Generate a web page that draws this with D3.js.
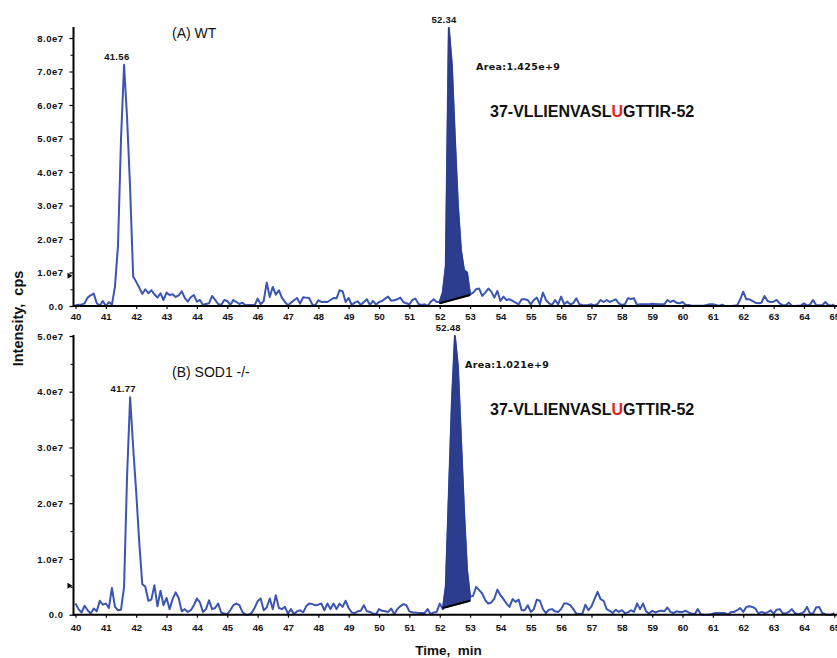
<!DOCTYPE html>
<html><head><meta charset="utf-8">
<script src="https://cdn.jsdelivr.net/npm/d3@7"></script>
<style>body{margin:0;background:#fff}svg{display:block}</style>
</head><body>
<svg id="chart" width="837" height="658"></svg>
<script>
// ---- data (intensity in units of 1e6 cps, sampled every 0.1 min from 40.0 to 65.0 min)
const timeStart = 40, timeStep = 0.1;
const wtIntensity = [
0.2,0.4,0.4,0.8,2.5,3.2,3.7,0.8,0.1,1.5,
0.0,1.2,0.4,5.8,18,50,72,56,35,8.8,
7.2,5.5,3.6,5.0,3.8,4.7,3.5,2.5,3.8,1.8,
4.0,3.3,3.5,2.7,3.2,4.4,2.4,1.3,2.6,3.3,
1.3,1.8,0.3,0.6,0.8,3.0,1.8,0.6,0.3,1.8,
1.5,0.3,1.8,1.2,0.6,1.0,0.2,0.3,0.3,0.2,
2.2,0.5,1.5,7.0,2.7,5.7,3.4,4.7,2.5,1.2,
0.2,1.0,1.7,2.4,0.7,2.6,2.5,2.4,0.5,0.2,
1.7,1.2,1.3,1.2,1.8,2.4,2.3,4.7,4.4,1.2,
2.4,0.3,1.0,1.4,0.3,1.2,2.0,0.3,1.5,0.4,
1.2,1.5,2.2,2.8,1.6,1.7,2.0,2.5,1.2,0.8,
0.5,1.8,2.2,0.6,0.3,0.5,0.0,1.2,2.0,1.2,
1.3,4.0,12,83,72,50,30,16.7,10.7,10.0,
3.5,4.0,5.0,5.2,3.0,4.0,5.2,4.3,2.5,4.5,
1.5,2.8,1.8,2.0,1.5,1.0,0.5,2.0,2.0,1.8,
0.5,1.8,2.5,0.5,4.0,1.8,0.8,0.3,1.8,0.5,
2.8,0.5,1.3,0.5,0.8,2.3,0.5,0.3,0.2,0.3,
0.5,0.2,0.6,1.8,1.2,1.8,1.2,1.6,2.0,0.8,
0.3,0.5,2.3,2.1,2.3,0.3,0.5,0.5,0.5,0.5,
0.7,0.6,0.5,0.5,0.5,1.8,1.2,1.6,1.0,0.8,
1.2,0.3,0.3,0.1,0.1,0.1,0.1,0.1,0.3,0.5,
0.5,0.3,0.0,0.4,0.0,0.0,0.0,0.1,0.2,2.0,
4.3,2.0,2.0,1.5,1.0,0.8,1.0,3.0,1.5,1.2,
1.3,1.8,0.8,0.2,0.2,1.0,0.1,0.0,0.1,0.1,
0.8,0.1,0.4,1.8,0.3,0.2,0.2,1.2,0.3,0.1,
0.5];
const sodIntensity = [
2.0,1.0,0.4,1.6,0.8,0.2,1.1,0.6,2.5,1.8,
2.0,1.2,4.8,1.4,0.8,0.9,5.0,25,39,30,
22,13,5.5,5.0,2.5,2.7,5.3,1.5,4.3,1.7,
3.0,1.0,2.8,4.0,3.0,0.6,1.0,0.5,0.8,1.7,
2.9,2.2,0.5,1.0,2.6,1.0,1.2,2.0,0.4,0.2,
0.1,0.8,1.7,2.0,1.7,0.5,0.0,0.0,0.3,1.2,
2.4,2.9,0.8,1.3,2.9,1.0,3.5,1.2,1.0,1.4,
0.2,1.0,0.1,0.6,0.8,0.4,1.5,2.0,1.9,1.7,
1.8,2.0,0.8,2.0,1.0,2.0,1.0,2.0,1.4,2.5,
1.2,0.4,0.3,0.6,0.7,1.7,0.6,0.5,0.2,0.1,
1.0,0.7,0.6,0.5,1.1,0.1,1.0,1.5,1.9,1.7,
0.6,0.4,0.4,0.3,0.3,0.3,1.0,0.1,0.4,0.5,
2.0,1.0,5.1,21.6,38,50,44.5,31.6,18.7,8.0,
3.2,3.4,5.0,4.4,3.8,2.6,2.0,2.2,2.9,4.5,
3.5,2.8,2.0,1.4,2.8,2.3,2.7,0.8,0.8,1.7,
0.5,1.0,2.7,2.5,1.0,0.3,0.9,1.0,0.6,0.5,
1.0,2.0,2.0,1.7,1.0,0.2,0.1,0.2,1.8,0.8,
1.5,2.8,4.1,2.8,2.5,1.0,0.7,0.3,0.9,0.5,
0.8,0.3,0.4,0.8,0.5,2.0,1.0,2.0,0.6,0.2,
0.7,0.4,0.6,0.7,0.6,1.3,0.5,0.3,0.6,0.5,
0.5,0.7,0.4,0.2,0.1,1.0,0.1,0.0,0.0,0.0,
0.2,0.3,0.3,0.3,0.3,0.0,0.5,0.5,0.8,1.2,
0.5,1.4,1.5,1.4,1.1,0.2,0.5,0.3,0.4,0.8,
0.2,0.9,1.0,0.3,0.2,0.5,1.0,0.3,0.1,0.2,
0.5,1.4,0.2,0.2,1.3,1.4,0.3,0.1,0.0,0.0,
0.3];
const unit = 1e6;
const xTickValues = [40,41,42,43,44,45,46,47,48,49,50,51,52,53,54,55,56,57,58,59,60,61,62,63,64,65];
const yTicksTop = [0,1e7,2e7,3e7,4e7,5e7,6e7,7e7,8e7];
const yTicksBottom = [0,1e7,2e7,3e7,4e7,5e7];
const panelTitles = ["(A) WT", "(B) SOD1 -/-"];
const peakTimes = [[41.56, 52.34], [41.77, 52.48]];
const areaLabels = ["Area:1.425e+9", "Area:1.021e+9"];
const fillWindows = [[52.0, 53.0], [52.1, 53.0]];
const fillBaselines = [[0.8, 3.3], [1.2, 2.5]];   // ×1e6 at window start / end
const markerValues = [9e6, 5.2e6];
const peptideParts = ["37-VLLIENVASL", "U", "GTTIR-52"];

// ---- drawing
const svg = d3.select("#chart");
const LINE = "#3b55b2", FILL = "#2c3d8e";
const FONT = "'Liberation Sans', Arial, Helvetica, sans-serif";
const x = d3.scaleLinear().domain([40, 65]).range([75.5, 834.3]);

const panels = [
  {values: wtIntensity, yMax: 8e7, y0: 306, yTopPx: 38, axisTop: 27, ticks: yTicksTop,
   titleY: 38, areaPos: [476, 70], pepY: 117, labPad: 4},
  {values: sodIntensity, yMax: 5e7, y0: 614.7, yTopPx: 336, axisTop: 335, ticks: yTicksBottom,
   titleY: 377, areaPos: [465, 368], pepY: 415, labPad: 7}
];

panels.forEach((p, pi) => {
  const g = svg.append("g");
  const y = d3.scaleLinear().domain([0, p.yMax]).range([p.y0, p.yTopPx]);
  const pts = p.values.map((v, i) => ({t: timeStart + i * timeStep, v: v * unit}));

  // trace
  g.append("path").datum(pts)
    .attr("fill", "none").attr("stroke", LINE).attr("stroke-width", 2)
    .attr("stroke-linejoin", "round")
    .attr("d", d3.line().x(d => x(d.t)).y(d => y(d.v)));

  // integrated peak area
  const [w0, w1] = fillWindows[pi];
  const [b0, b1] = fillBaselines[pi];
  const base = t => (b0 + (b1 - b0) * (t - w0) / (w1 - w0)) * unit;
  const inWin = pts.filter(d => d.t >= w0 - 1e-6 && d.t <= w1 + 1e-6);
  g.append("path").datum(inWin)
    .attr("fill", FILL).attr("stroke", FILL).attr("stroke-width", 1.5)
    .attr("stroke-linejoin", "round")
    .attr("d", d3.area().x(d => x(d.t)).y0(d => y(base(d.t))).y1(d => y(d.v)));
  g.append("path").datum([w0, w1])
    .attr("stroke", "#000").attr("stroke-width", 2).attr("fill", "none")
    .attr("d", d3.line().x(t => x(t)).y(t => y(base(t))));

  // x axis
  const xAxis = g.append("g").attr("transform", `translate(0,${p.y0})`)
    .call(d3.axisBottom(x).tickValues(xTickValues).tickFormat(d3.format("d"))
      .tickSize(3).tickPadding(p.labPad));
  xAxis.select(".domain").remove();
  xAxis.selectAll("line").attr("stroke", "#000").attr("stroke-width", 1.2);
  xAxis.selectAll("text").attr("font-family", FONT).attr("font-weight", "bold")
    .attr("font-size", 9.5).attr("fill", "#111");
  g.append("line").attr("x1", 73).attr("x2", 837).attr("y1", p.y0).attr("y2", p.y0)
    .attr("stroke", "#000").attr("stroke-width", 2);

  // y axis
  const yAxisX = 73.5;
  const fmt = d => d === 0 ? "0.0" : (d / 1e7).toFixed(1) + "e7";
  const minor = p.ticks.slice(0, -1).map(d => d + 5e6);
  const ya = g.append("g").attr("transform", `translate(${yAxisX},0)`)
    .call(d3.axisLeft(y).tickValues(p.ticks).tickFormat(fmt).tickSize(4).tickPadding(6));
  ya.select(".domain").remove();
  ya.selectAll("line").attr("stroke", "#000").attr("stroke-width", 1.2);
  ya.selectAll("text").attr("font-family", FONT).attr("font-weight", "bold")
    .attr("font-size", 9.5).attr("letter-spacing", 0.5).attr("fill", "#111");
  const ym = g.append("g").attr("transform", `translate(${yAxisX},0)`)
    .call(d3.axisLeft(y).tickValues(minor).tickFormat("").tickSize(3));
  ym.select(".domain").remove();
  ym.selectAll("line").attr("stroke", "#000").attr("stroke-width", 1);
  g.append("line").attr("x1", yAxisX).attr("x2", yAxisX).attr("y1", p.axisTop).attr("y2", p.y0 + 1)
    .attr("stroke", "#000").attr("stroke-width", 2);
  // threshold marker
  const my = y(markerValues[pi]);
  g.append("path").attr("d", `M${yAxisX - 6},${my - 3}L${yAxisX - 1},${my}L${yAxisX - 6},${my + 3}Z`)
    .attr("fill", "#000");

  // peak labels
  peakTimes[pi].forEach(pt => {
    const near = pts.filter(d => Math.abs(d.t - pt) <= 0.1);
    const top = d3.max(near, d => d.v);
    g.append("text").attr("x", x(pt) - 6).attr("y", y(top) - 5)
      .attr("text-anchor", "middle").attr("font-family", FONT).attr("font-weight", "bold")
      .attr("font-size", 9.5).attr("letter-spacing", 0.3).attr("fill", "#111")
      .text(pt.toFixed(2));
  });

  // panel title
  g.append("text").attr("x", 172).attr("y", p.titleY)
    .attr("font-family", FONT).attr("font-size", 14).attr("fill", "#111")
    .text(panelTitles[pi]);

  // area label
  g.append("text").attr("x", p.areaPos[0]).attr("y", p.areaPos[1])
    .attr("font-family", "'DejaVu Sans', Verdana, sans-serif").attr("font-weight", "bold")
    .attr("font-size", 9.5).attr("letter-spacing", 0.35).attr("fill", "#111")
    .text(areaLabels[pi]);

  // peptide sequence
  const pep = g.append("text").attr("x", 490).attr("y", p.pepY)
    .attr("font-family", FONT).attr("font-weight", "bold").attr("font-size", 16)
    .attr("fill", "#111");
  peptideParts.forEach((s, k) => pep.append("tspan").attr("fill", k === 1 ? "#e3241b" : "#111").text(s));
});

// axis titles
svg.append("text").attr("transform", "translate(23,318.5) rotate(-90)")
  .attr("text-anchor", "middle").attr("font-family", FONT).attr("font-weight", "bold")
  .attr("font-size", 14.5).attr("fill", "#111").style("white-space", "pre")
  .text("Intensity,  cps");
svg.append("text").attr("x", 448.5).attr("y", 655)
  .attr("text-anchor", "middle").attr("font-family", FONT).attr("font-weight", "bold")
  .attr("font-size", 13.5).attr("fill", "#111").style("white-space", "pre")
  .text("Time,  min");
</script>
</body></html>
